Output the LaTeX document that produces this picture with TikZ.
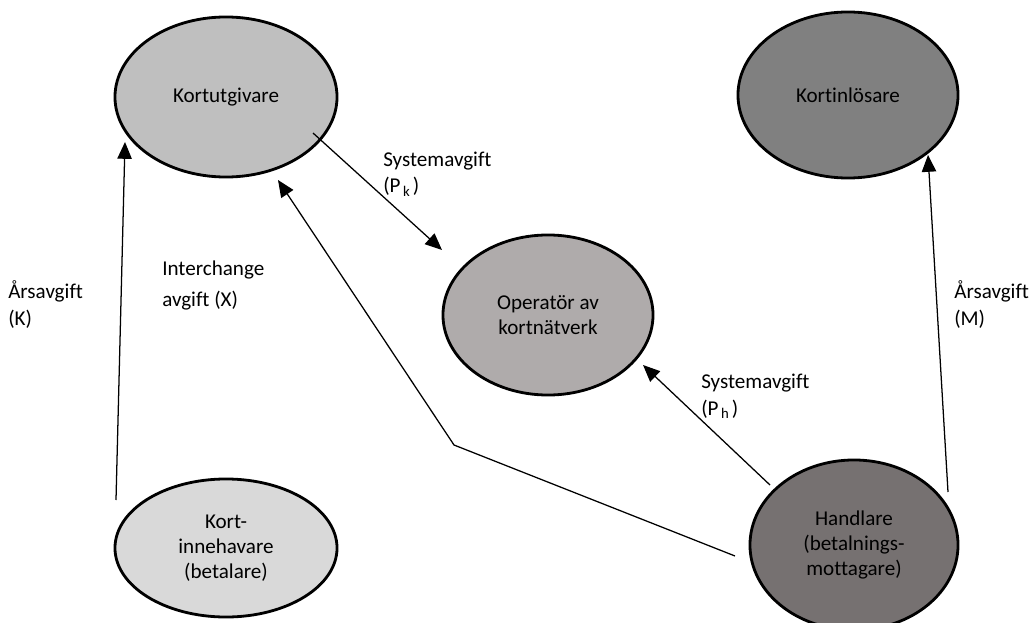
\documentclass[tikz,border=0pt]{standalone}
\usepackage{fontspec}
\setmainfont[Ligatures=NoCommon]{Carlito}
\usetikzlibrary{shapes.geometric,calc,arrows.meta}

\definecolor{issuergray}{HTML}{BFBFBF}
\definecolor{acquirergray}{HTML}{808080}
\definecolor{networkgray}{HTML}{AFABAB}
\definecolor{holdergray}{HTML}{D9D9D9}
\definecolor{merchantgray}{HTML}{767171}

\begin{document}
\begin{tikzpicture}[
  x=0.025cm, y=-0.025cm,
  party/.style={ellipse, draw, line width=2pt, align=center, inner sep=0pt, font=\fontsize{15}{17.8}\selectfont},
  fee/.style={anchor=base west, align=left, inner sep=0pt, font=\fontsize{15}{18.5}\selectfont},
  arrow/.style={-{Triangle[length=4.2mm,width=3.6mm]}, line width=0.9pt}
]
\useasboundingbox (0,0) rectangle (1032,623);

\node[party, fill=issuergray, minimum width=5.55cm, minimum height=4cm] (issuer) at (226,97) {Kortutgivare};
\node[party, fill=acquirergray, minimum width=5.5cm, minimum height=4.15cm] (acquirer) at (848,95) {Kortinlösare};
\node[party, fill=networkgray, minimum width=5.25cm, minimum height=4cm] (network) at (548,315) {Operatör av\\kortnätverk};
\node[party, fill=holdergray, minimum width=5.55cm, minimum height=3.45cm] (holder) at (226,548) {Kort-\\innehavare\\(betalare)};
\node[party, fill=merchantgray, minimum width=5.2cm, minimum height=4.25cm] (merchant) at (854,545) {Handlare\\(betalnings-\\mottagare)};

% Fee labels (anchored at the baseline of the last line)
\node[fee] (feeK) at (8,325) {Årsavgift\\(K)};
\node[fee] (feeM) at (954,325) {Årsavgift\\(M)};
\node[fee, font=\fontsize{15}{22}\selectfont] (feeX) at (162,306) {Interchange\\avgift (X)};
\node[fee] (feePk) at (383,193) {Systemavgift\\(P\textsubscript{\,k\,})};
\node[fee] (feePh) at (701,415) {Systemavgift\\(P\textsubscript{\,h\,})};

% Annual fees
\draw[arrow] ($(holder.center)+(-110,-48)$) -- ($(issuer.center)+(-101,45)$);
\draw[arrow] ($(merchant.center)+(94,-53)$) -- ($(acquirer.center)+(80,60)$);

% System fees to the network
\draw[arrow] ($(issuer.center)+(87,36)$) -- ($(network.center)+(-106,-65)$);
\draw[arrow] ($(merchant.center)+(-84,-60)$) -- ($(network.center)+(95,50)$);

% Interchange fee, bent path
\coordinate (bend) at (454,445);
\draw[arrow] ($(merchant.center)+(-119,11)$) -- (bend) -- ($(issuer.center)+(52,83)$);
\end{tikzpicture}
\end{document}
